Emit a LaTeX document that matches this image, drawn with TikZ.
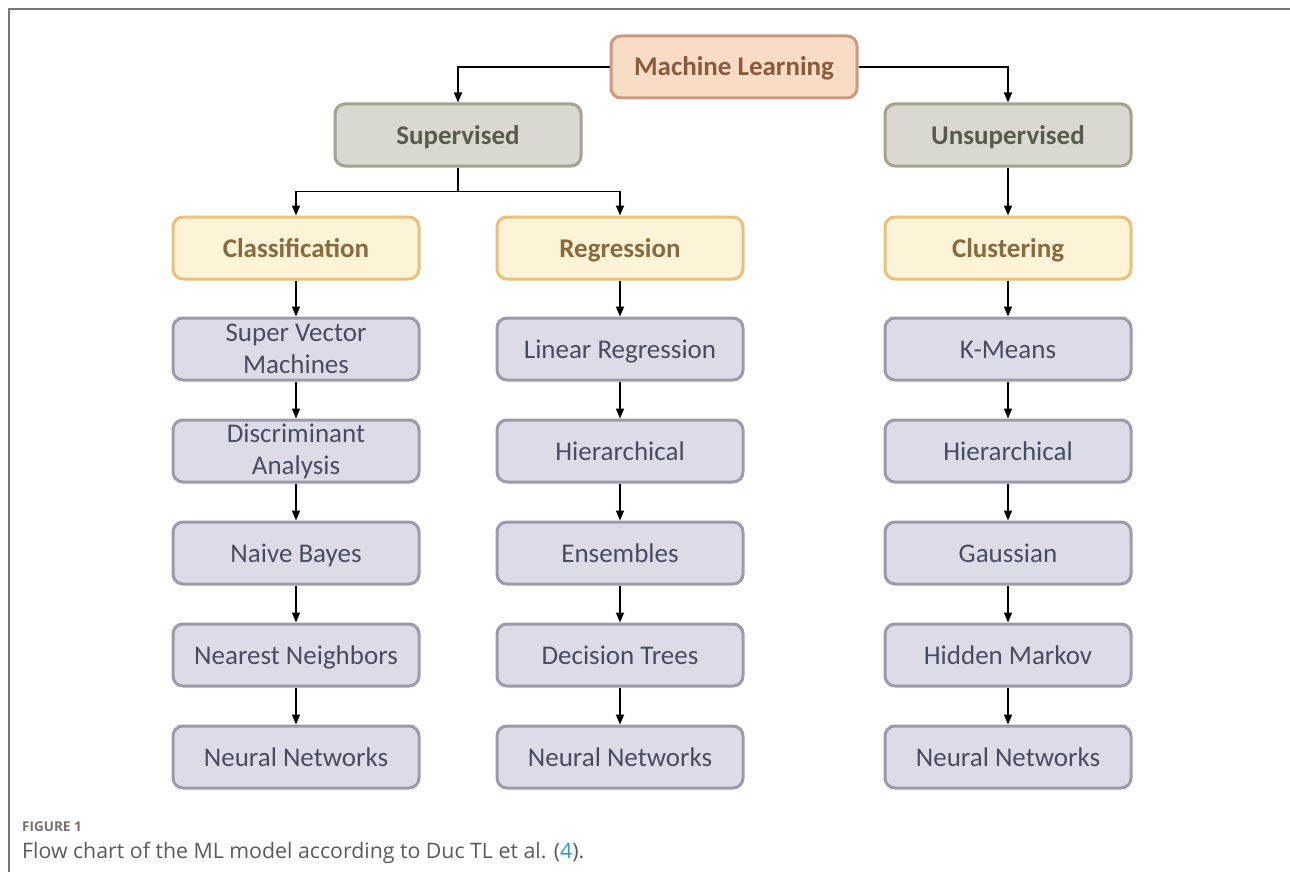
\documentclass[tikz,border=0pt]{standalone}
\usepackage{fontspec}
\setmainfont{Carlito}
\newfontfamily\capfont{Open Sans}
\usetikzlibrary{arrows.meta}
\definecolor{mlfill}{HTML}{F9DCC6}
\definecolor{mldraw}{HTML}{CC9A7E}
\definecolor{mltext}{HTML}{8A5A3C}
\definecolor{supfill}{HTML}{DAD8D0}
\definecolor{supdraw}{HTML}{A4A290}
\definecolor{suptext}{HTML}{565C4B}
\definecolor{catfill}{HTML}{FDF3D7}
\definecolor{catdraw}{HTML}{E9C07C}
\definecolor{cattext}{HTML}{876A3E}
\definecolor{leaffill}{HTML}{DCDCE8}
\definecolor{leafdraw}{HTML}{9D9BAA}
\definecolor{leaftext}{HTML}{474C5E}
\definecolor{framecol}{HTML}{777777}
\definecolor{capgray}{HTML}{5A5A5A}
\definecolor{figcol}{HTML}{76706A}
\definecolor{linkcol}{HTML}{19A6C9}
\tikzset{
  box/.style={rounded corners=10pt, line width=3pt, minimum width=246pt, minimum height=62pt, inner sep=0pt, align=center},
  oneline/.style={text height=18pt, text depth=0pt},
  mlbox/.style={box, oneline, fill=mlfill, draw=mldraw, text=mltext, font=\fontsize{27}{32}\selectfont\bfseries},
  supbox/.style={box, oneline, fill=supfill, draw=supdraw, text=suptext, font=\fontsize{27}{32}\selectfont\bfseries},
  catbox/.style={box, oneline, fill=catfill, draw=catdraw, text=cattext, font=\fontsize{27}{32}\selectfont\bfseries},
  leafbox/.style={box, fill=leaffill, draw=leafdraw, text=leaftext, font=\fontsize{27}{32}\selectfont},
  leafone/.style={leafbox, oneline},
  link/.style={line width=1.6pt, black, -{Triangle[length=10pt,width=8pt]}}
}
\begin{document}
\begin{tikzpicture}[x=1pt,y=-1pt]
\useasboundingbox (0,0) rectangle (1290,872);
\fill[white] (0,0) rectangle (1290,872);
\draw[framecol, line width=1.5pt] (9,872) -- (9,9) -- (1290,9);

\node[mlbox] (ml) at (734,67) {Machine Learning};
\node[supbox] (sup) at (458,135) {Supervised};
\node[supbox] (uns) at (1008,135) {Unsupervised};
\node[catbox] (cls) at (296,248) {Classification};
\node[catbox] (reg) at (620,248) {Regression};
\node[catbox] (clu) at (1008,248) {Clustering};

\node[leafbox] (c1) at (296,349) {Super Vector\\Machines};
\node[leafbox] (c2) at (296,451) {Discriminant\\Analysis};
\node[leafone] (c3) at (296,553) {Naive Bayes};
\node[leafone] (c4) at (296,655) {Nearest Neighbors};
\node[leafone] (c5) at (296,757) {Neural Networks};

\node[leafone] (r1) at (620,349) {Linear Regression};
\node[leafone] (r2) at (620,451) {Hierarchical};
\node[leafone] (r3) at (620,553) {Ensembles};
\node[leafone] (r4) at (620,655) {Decision Trees};
\node[leafone] (r5) at (620,757) {Neural Networks};

\node[leafone] (u1) at (1008,349) {K-Means};
\node[leafone] (u2) at (1008,451) {Hierarchical};
\node[leafone] (u3) at (1008,553) {Gaussian};
\node[leafone] (u4) at (1008,655) {Hidden Markov};
\node[leafone] (u5) at (1008,757) {Neural Networks};

\draw[link] (ml.west) -| (sup.north);
\draw[link] (ml.east) -| (uns.north);
\draw[link] (sup.south) -- ++(0,24) -| (cls.north);
\draw[link] (sup.south) -- ++(0,24) -| (reg.north);
\draw[link] (uns.south) -- (clu.north);

\foreach \a/\b in {cls/c1,c1/c2,c2/c3,c3/c4,c4/c5,reg/r1,r1/r2,r2/r3,r3/r4,r4/r5,clu/u1,u1/u2,u2/u3,u3/u4,u4/u5}
  \draw[link] (\a.south) -- (\b.north);

\node[anchor=base west, inner sep=0pt, text=figcol, font=\capfont\fontsize{13.5}{16}\selectfont\bfseries] (fig) at (22,831) {FIGURE 1};
\node[anchor=base west, inner sep=0pt, text=capgray, font=\capfont\fontsize{21.3}{24}\selectfont] (cap) at (22,858) {Flow chart of the ML model according to Duc TL et al. (\textcolor{linkcol}{4}).};
\end{tikzpicture}
\end{document}
